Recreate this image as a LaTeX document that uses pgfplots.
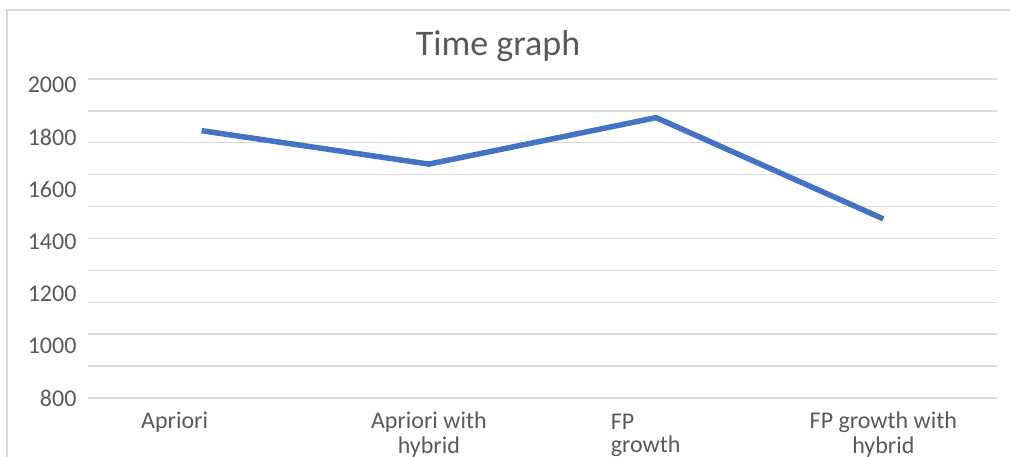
\documentclass[border=0pt]{standalone}
\usepackage{pgfplots}
\pgfplotsset{compat=1.18}
\usepackage{fontspec}
\setmainfont{Carlito}
\definecolor{txt}{RGB}{89,89,89}
\definecolor{gridc}{RGB}{217,217,217}
\definecolor{serie}{RGB}{68,114,196}
\begin{document}
\begin{tikzpicture}[x=1pt,y=1pt]
\useasboundingbox (0,0) rectangle (1010,457);
\clip (0,0) rectangle (1010,457);
\draw[gridc, line width=2pt] (7,-5) -- (7,447) -- (1015,447);
\node[txt, font=\fontsize{36}{42}\selectfont, anchor=base, inner sep=0pt] at (498,401) {Time graph};
\begin{axis}[
  scale only axis, width=909pt, height=319pt,
  at={(88pt,59pt)}, anchor=south west,
  xmin=-0.5, xmax=3.5, ymin=800, ymax=2022,
  axis line style={draw=none},
  clip=false,
  xtick={0,1,2,3},
  xticklabels={{Apriori\kern54pt}, {Apriori with\\hybrid}, {\begin{tabular}{@{}l@{}}FP\\[-2pt]growth\end{tabular}\kern21pt}, {FP growth with\\hybrid}},
  ytick={800,1000,1200,1400,1600,1800,2000},
  yticklabels={800,1000,1200,1400,1600,1800,2000},
  major tick length=0pt,
  tick label style={text=txt, font=\fontsize{24}{25}\selectfont},
  xticklabel style={align=center, anchor=north, yshift=-10pt},
  yticklabel style={anchor=east, xshift=-8pt},
  extra y ticks={800,922.2,1044.4,1166.6,1288.8,1411.0,1533.2,1655.4,1777.6,1899.8,2022},
  extra y tick labels={},
  extra y tick style={grid=major, major grid style={gridc, line width=1.4pt}},
]
\addplot[serie, line width=5.5pt, line join=round] coordinates {(0,1824) (1,1696) (2,1874) (3,1486)};
\end{axis}
\end{tikzpicture}
\end{document}
